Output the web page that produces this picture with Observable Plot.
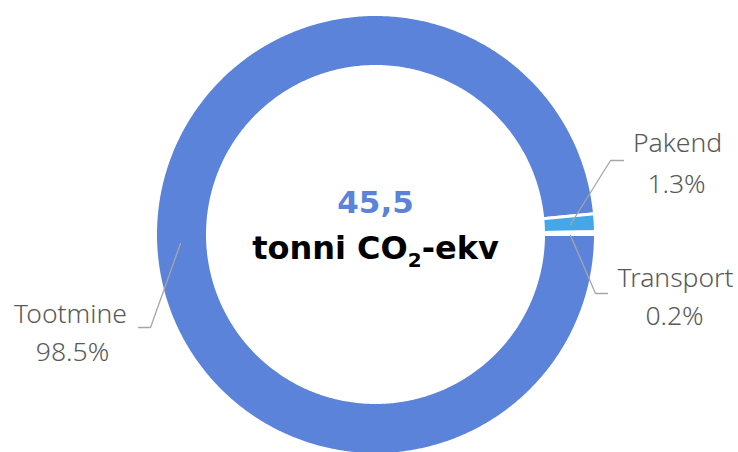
<!DOCTYPE html>
<html>
<head>
<meta charset="utf-8">
<script src="https://cdn.jsdelivr.net/npm/d3@7"></script>
<script src="https://cdn.jsdelivr.net/npm/@observablehq/plot@0.6"></script>
<style>
  html, body { margin: 0; padding: 0; background: #fff; }
  #chart svg { display: block; }
</style>
</head>
<body>
<div id="chart"></div>
<script>
// ---- data ----
const categories = ["Tootmine", "Pakend", "Transport"];
const shares = [98.5, 1.3, 0.2];
const percentLabels = ["98.5%", "1.3%", "0.2%"];
const sliceColors = ["#5a83d9", "#44a8e8", "#e8eef9"];
const totalValue = "45,5";
const totalUnit = "tonni CO2-ekv";

// ---- layout ----
const W = 738, H = 452;
const cx = 375, cy = 234, rOuter = 220, rInner = 168;
const labelFont = "'Noto Sans', 'Open Sans', sans-serif";
const centerFont = "'DejaVu Sans', sans-serif";
const labelLayout = [
  {name: [70, 314], pct: [72, 352], leader: [[180, 243], [150, 327], [138, 327]]},
  {name: [677, 143], pct: [676, 184], leader: [[570, 224], [610, 160], [623, 160]]},
  {name: [675, 278], pct: [674, 316], leader: [[570, 235], [595, 293], [607, 293]]}
];

// ---- slices via d3.pie ----
const pie = d3.pie().sort(null).startAngle(Math.PI / 2).endAngle(Math.PI / 2 + 2 * Math.PI);
const arcs = pie(shares);
const ringPts = [];
arcs.forEach((a, i) => {
  const n = Math.max(4, Math.ceil((a.endAngle - a.startAngle) / 0.01));
  for (let k = 0; k <= n; k++) {
    const t = a.startAngle + (a.endAngle - a.startAngle) * k / n;
    ringPts.push({cat: categories[i], x: cx + rOuter * Math.sin(t), y: cy - rOuter * Math.cos(t)});
  }
  for (let k = n; k >= 0; k--) {
    const t = a.startAngle + (a.endAngle - a.startAngle) * k / n;
    ringPts.push({cat: categories[i], x: cx + rInner * Math.sin(t), y: cy - rInner * Math.cos(t)});
  }
});

const leaderPts = [];
labelLayout.forEach((l, i) => l.leader.forEach(p => leaderPts.push({cat: categories[i], x: p[0], y: p[1]})));
const nameTexts = categories.map((c, i) => ({t: c, x: labelLayout[i].name[0], y: labelLayout[i].name[1]}));
const pctTexts = percentLabels.map((p, i) => ({t: p, x: labelLayout[i].pct[0], y: labelLayout[i].pct[1]}));

const chart = Plot.plot({
  width: W, height: H,
  margin: 0,
  x: {domain: [0, W], range: [0, W], axis: null},
  y: {domain: [0, H], range: [0, H], axis: null},
  color: {domain: categories, range: sliceColors},
  style: {background: "white"},
  marks: [
    Plot.line(ringPts, {x: "x", y: "y", z: "cat", fill: "cat", stroke: "white", strokeWidth: 3, curve: "linear-closed"}),
    Plot.line(leaderPts, {x: "x", y: "y", z: "cat", stroke: "#a6a6a6", strokeWidth: 1.3}),
    Plot.text(nameTexts, {x: "x", y: "y", text: "t", fontSize: 26.5, fontWeight: 300, fill: "#595959", fontFamily: labelFont}),
    Plot.text(pctTexts, {x: "x", y: "y", text: "t", fontSize: 26.5, fontWeight: 300, fill: "#595959", fontFamily: labelFont}),
    Plot.text([totalValue], {x: () => cx, y: () => 203, text: d => d, fontSize: 31, fontWeight: 700, fill: "#5a83d9", fontFamily: centerFont}),
    Plot.text([totalUnit], {x: () => cx, y: () => 248, text: d => d, fontSize: 32, fontWeight: 700, fill: "#000", fontFamily: centerFont})
  ]
});
document.getElementById("chart").appendChild(chart);

// subscript "2" in CO2
d3.select(chart).selectAll("text").each(function () {
  const el = d3.select(this);
  if (el.text() === totalUnit) {
    el.text(null);
    el.append("tspan").text("tonni CO");
    el.append("tspan").attr("font-size", "20px").attr("dy", "8px").text("2");
    el.append("tspan").attr("dy", "-8px").text("-ekv");
  }
});
</script>
</body>
</html>
